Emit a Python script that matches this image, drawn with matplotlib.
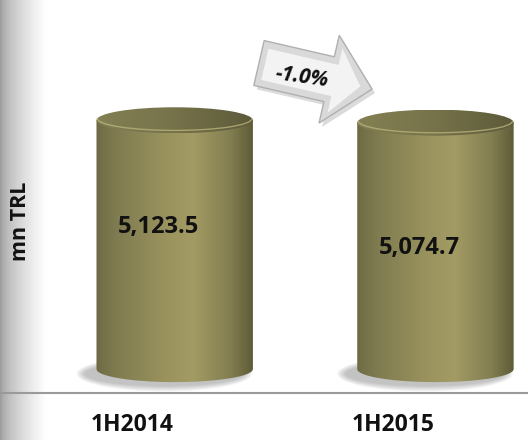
import numpy as np
import matplotlib
matplotlib.use('Agg')
import matplotlib.pyplot as plt
from matplotlib.patches import Ellipse, PathPatch, Polygon, Arc
from matplotlib.path import Path
from matplotlib.colors import LinearSegmentedColormap
from matplotlib.transforms import Affine2D

# data
periods = ['1H2014', '1H2015']
values = [5123.5, 5074.7]
value_labels = ['5,123.5', '5,074.7']
change_label = '-1.0%'
unit_label = 'mn TRL'

FONT = ['Open Sans', 'DejaVu Sans']
plt.rcParams['font.family'] = FONT

W, H = 528, 440
XLIM = (-0.67, 1.355)
YLIM = (-1460, 7600)
BAR_W = 0.60
ELL_PX = 26  # height of the cylinder caps in pixels
LABEL_Y = [0.57, 0.49]  # where the value text sits inside each cylinder

body_cmap = LinearSegmentedColormap.from_list('body', [
    (0.0, '#6e6b44'), (0.12, '#7f7b50'), (0.45, '#9a935e'),
    (0.62, '#a39b64'), (0.86, '#827e51'), (1.0, '#5f5d39')])
top_cmap = LinearSegmentedColormap.from_list('top', [
    (0.0, '#848054'), (0.5, '#76724a'), (1.0, '#5c5a3a')])


def _background(ax_bg):
    ax_bg.axis('off')
    # grey strip on the left
    grad = np.linspace(0, 1, 100) ** 0.6
    strip = np.ones((1, 100, 3)) * (0.6 + 0.4 * grad)[None, :, None]
    ax_bg.imshow(strip, extent=[0, 46, H, 0], aspect='auto', zorder=0)
    ax_bg.plot([0, W], [393, 393], color='#9a9a9a', lw=1.5, zorder=1)
    ax_bg.set_xlim(0, W)
    ax_bg.set_ylim(H, 0)


def _arrow(ax_bg):
    pts = np.array([(0, -23), (72, -23), (72, -45), (116, 0),
                    (72, 45), (72, 23), (0, 23)], dtype=float)
    rot = Affine2D().rotate_deg(13).translate(259, 63)
    shadow = Affine2D().rotate_deg(13).translate(262, 67)
    ax_bg.add_patch(Polygon(shadow.transform(pts), closed=True,
                            facecolor='#9a9a9a', edgecolor='none', alpha=0.35, zorder=2))
    ax_bg.add_patch(Polygon(rot.transform(pts), closed=True,
                            facecolor='#d9d9d9', edgecolor='#b0b0b0', lw=1, zorder=3))
    inner = np.array([(6, -16), (78, -16), (78, -33), (104, 0),
                      (78, 33), (78, 16), (6, 16)], dtype=float)
    ax_bg.add_patch(Polygon(rot.transform(inner), closed=True,
                            facecolor='#f3f3f3', edgecolor='none', zorder=4))
    ax_bg.text(302, 77, change_label, fontsize=15, fontweight='bold', style='italic',
               ha='center', va='center', rotation=-8, color='#111111', zorder=5)


def _cylinder(ax, x, v, eh):
    left, right = x - BAR_W / 2, x + BAR_W / 2
    t = np.linspace(np.pi, 2 * np.pi, 60)
    verts = [(left, v), (left, 0)]
    verts += list(zip(x + BAR_W / 2 * np.cos(t), eh / 2 * np.sin(t)))
    verts += [(right, 0), (right, v), (left, v)]
    codes = [Path.MOVETO] + [Path.LINETO] * (len(verts) - 2) + [Path.CLOSEPOLY]
    body = PathPatch(Path(verts, codes), facecolor='none', edgecolor='none')
    ax.add_patch(body)

    # soft shadow under the base
    for k in range(6):
        ax.add_patch(Ellipse((x - 0.04, -eh * 0.18), BAR_W * (1.12 - k * 0.02),
                             eh * (1.35 - k * 0.08), facecolor='#7a7a7a',
                             edgecolor='none', alpha=0.09, zorder=1))

    grad = np.linspace(0, 1, 200)[None, :]
    im = ax.imshow(grad, cmap=body_cmap, extent=[left, right, -eh, v],
                   aspect='auto', zorder=2)
    im.set_clip_path(body)

    top = Ellipse((x, v), BAR_W, eh, facecolor='none', edgecolor='none')
    ax.add_patch(top)
    im2 = ax.imshow(grad, cmap=top_cmap, extent=[left, right, v - eh / 2, v + eh / 2],
                    aspect='auto', zorder=3)
    im2.set_clip_path(top)
    ax.add_patch(Arc((x, v + eh * 0.06), BAR_W * 0.985, eh * 0.9, theta1=195, theta2=345,
                     color='#b9b27a', lw=1.0, alpha=0.8, zorder=4))


def draw_chart():
    fig = plt.figure(figsize=(W / 100, H / 100), dpi=100)
    ax_bg = fig.add_axes([0, 0, 1, 1], zorder=0)
    _background(ax_bg)
    _arrow(ax_bg)

    ax = fig.add_axes([0, 0, 1, 1], zorder=1)
    ax.patch.set_alpha(0)
    ax.axis('off')
    ax.set_xlim(*XLIM)
    ax.set_ylim(*YLIM)
    eh = ELL_PX * (YLIM[1] - YLIM[0]) / H

    for i, v in enumerate(values):
        _cylinder(ax, i, v, eh)
        ax.text(i - 0.063, v * LABEL_Y[i], value_labels[i], fontsize=17,
                fontweight='bold', ha='center', va='center', color='#111111', zorder=6)
        ax.text(i - 0.163, -1150, periods[i], fontsize=16.5, fontweight='bold',
                ha='center', va='center', color='#111111', zorder=6)

    ax.set_xlim(*XLIM)
    ax.set_ylim(*YLIM)
    ax.set_aspect('auto')

    fig.text(21 / W, 1 - 221 / H, unit_label, rotation=90, fontsize=15.5,
             fontweight='bold', ha='center', va='center', color='#111111')

    fig.savefig('out.png', dpi=100)


if __name__ == '__main__':
    draw_chart()
